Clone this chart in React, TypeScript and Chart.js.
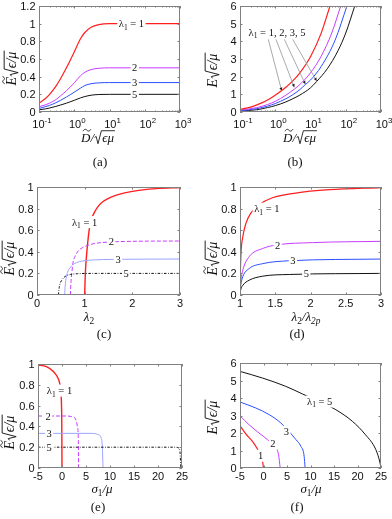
import React, { useEffect, useRef } from 'react';
import { Chart, registerables } from 'chart.js';
Chart.register(...registerables);

// ---------------- data ----------------
// (a) E~ vs D~ (log x)
const aD = [0.1, 0.15, 0.2, 0.3, 0.4, 0.6, 0.8, 1, 1.5, 2, 3, 5, 10, 1000];
const aE1 = [0.1, 0.15, 0.2, 0.29, 0.37, 0.5, 0.6, 0.68, 0.83, 0.9, 0.96, 0.99, 1.0, 1.0];
const aE2 = [0.06, 0.08, 0.1, 0.14, 0.18, 0.24, 0.29, 0.33, 0.41, 0.45, 0.48, 0.495, 0.5, 0.5];
const aE3 = [0.04, 0.06, 0.075, 0.105, 0.13, 0.17, 0.2, 0.225, 0.27, 0.3, 0.32, 0.33, 0.333, 0.333];
const aE5 = [0.025, 0.035, 0.045, 0.063, 0.078, 0.1, 0.118, 0.132, 0.16, 0.175, 0.19, 0.198, 0.2, 0.2];
const aXTicks = [0.1, 1, 10, 100, 1000];
const aXExp = ['-1', '0', '1', '2', '3'];
const aYTicks = [0, 0.2, 0.4, 0.6, 0.8, 1, 1.2];

// (b) E vs D~ (log x)
const bX1 = [0.1, 0.2, 0.4, 0.7, 1, 1.5, 2, 3, 5, 10, 20, 35.7];
const bY1 = [0.15, 0.28, 0.5, 0.75, 0.95, 1.2, 1.4, 1.72, 2.22, 3.13, 4.45, 6.0];
const bX2 = [0.1, 0.3, 0.6, 1, 2, 3.5, 5, 10, 20, 40, 72];
const bY2 = [0.1, 0.25, 0.42, 0.6, 0.95, 1.3, 1.56, 2.22, 3.15, 4.47, 6.0];
const bX3 = [0.1, 0.3, 0.6, 1, 2, 3, 5, 7.1, 10, 20, 50, 108];
const bY3 = [0.07, 0.19, 0.33, 0.48, 0.75, 0.95, 1.27, 1.55, 1.81, 2.57, 4.07, 6.0];
const bX5 = [0.1, 0.3, 0.6, 1, 2, 3, 5, 10, 15, 30, 60, 100, 180];
const bY5 = [0.05, 0.13, 0.25, 0.36, 0.57, 0.73, 0.96, 1.37, 1.73, 2.45, 3.46, 4.47, 6.0];
const bYTicks = [0, 1, 2, 3, 4, 5, 6];
const bArrowFrom = [[0.635, 4.11], [1.05, 4.11], [1.81, 4.11], [3.13, 4.11]];
const bArrowTo = [[1.52, 1.2], [3.47, 1.4], [7.13, 1.58], [14.96, 1.75]];

// (c) E~ vs lambda2
const cX1 = [1, 1.01, 1.02, 1.05, 1.1, 1.15, 1.21, 1.3, 1.4, 1.52, 1.7, 2, 2.5, 3];
const cY1 = [0, 0.15, 0.25, 0.42, 0.62, 0.71, 0.77, 0.83, 0.87, 0.9, 0.93, 0.96, 0.985, 0.995];
const cX2 = [0.7, 0.71, 0.73, 0.755, 0.8, 0.87, 0.96, 1.1, 1.25, 1.5, 2, 3];
const cY2 = [0, 0.1, 0.2, 0.3, 0.36, 0.41, 0.44, 0.465, 0.48, 0.49, 0.497, 0.5];
const cX3 = [0.58, 0.59, 0.61, 0.64, 0.69, 0.75, 0.83, 0.95, 1.2, 1.6, 3];
const cY3 = [0, 0.08, 0.15, 0.21, 0.25, 0.28, 0.3, 0.315, 0.325, 0.33, 0.333];
const cX5 = [0.45, 0.46, 0.48, 0.51, 0.56, 0.62, 0.7, 0.85, 1.2, 3];
const cY5 = [0, 0.05, 0.1, 0.13, 0.16, 0.18, 0.19, 0.197, 0.2, 0.2];
const cXTicks = [0, 1, 2, 3];
const unitYTicks = [0, 0.2, 0.4, 0.6, 0.8, 1];

// (d) E~ vs lambda2/lambda2p
const dX1 = [1, 1.005, 1.014, 1.04, 1.085, 1.156, 1.27, 1.46, 1.79, 2.27, 3];
const dY1 = [0.02, 0.2, 0.385, 0.54, 0.665, 0.76, 0.835, 0.9, 0.944, 0.975, 0.995];
const dX2 = [1, 1.01, 1.04, 1.13, 1.32, 1.51, 2.03, 3];
const dY2 = [0.04, 0.12, 0.23, 0.355, 0.43, 0.463, 0.485, 0.497];
const dX3 = [1, 1.01, 1.04, 1.13, 1.32, 1.7, 3];
const dY3 = [0.03, 0.09, 0.17, 0.245, 0.29, 0.317, 0.333];
const dX5 = [1, 1.01, 1.04, 1.13, 1.32, 1.7, 3];
const dY5 = [0.01, 0.05, 0.09, 0.137, 0.174, 0.19, 0.2];
const dXTicks = [1, 1.5, 2, 2.5, 3];

// (e) E~ vs sigma1/mu
const eX1 = [-5, -3.25, -1.85, -0.7, -0.35, -0.14, -0.05, 0];
const eY1 = [0.99, 0.975, 0.93, 0.85, 0.78, 0.655, 0.45, 0];
const eX2 = [-5, 1, 2, 2.7, 3.2, 3.4, 3.46];
const eY2 = [0.5, 0.5, 0.495, 0.48, 0.4, 0.27, 0];
const eX3 = [-5, 6, 7.6, 8.15, 8.4, 8.55];
const eY3 = [0.333, 0.333, 0.32, 0.29, 0.21, 0];
const eX5 = [-5, 23.5, 24.4, 24.6, 24.75];
const eY5 = [0.2, 0.2, 0.19, 0.145, 0];
const sXTicks = [-5, 0, 5, 10, 15, 20, 25];

// (f) E vs sigma1/mu
const fX1 = [-5, -3.8, -2.35, -1.3, -0.57, -0.2, 0];
const fY1 = [2.42, 1.96, 1.52, 1.09, 0.67, 0.38, 0];
const fX2 = [-5, -3.1, -0.96, 0.85, 2.3, 3.2, 3.55];
const fY2 = [2.98, 2.48, 2.0, 1.62, 1.24, 0.76, 0];
const fX3 = [-5, -1.65, 1.2, 3.7, 6.9, 7.95, 8.65, 8.85];
const fY3 = [3.77, 3.43, 3.05, 2.57, 1.62, 1.24, 0.67, 0];
const fX5 = [-5, -0.2, 4.7, 8.3, 11.8, 15.4, 18.9, 21.7, 23.9, 24.8, 25];
const fY5 = [5.52, 5.14, 4.67, 4.23, 3.81, 3.33, 2.67, 1.9, 1.05, 0.29, 0];

// ---------------- styles ----------------
const RED = '#ff1f1f';
const MAG = '#c83cff';
const BLUE = '#2a4fff';
const LBLUE = '#9aa4ff';
const BLACK = '#111111';
const FRAME = '#808080';
const SANS = '"Liberation Sans", Arial, sans-serif';
const SERIF = '"Liberation Serif", "DejaVu Serif", serif';

type Seg = { t: string; it?: boolean; sub?: boolean; sup?: boolean; sqrt?: boolean; tilde?: boolean };

function segFont(s: Seg, size: number, fam: string) {
  const sz = s.sub || s.sup ? size * 0.72 : size;
  return `${s.it ? 'italic ' : ''}${sz}px ${fam}`;
}
function segWidth(ctx: CanvasRenderingContext2D, s: Seg, size: number, fam: string) {
  ctx.font = segFont(s, size, fam);
  let w = ctx.measureText(s.t).width;
  if (s.sqrt) w += size * 0.62 + 1;
  return w;
}
function segsWidth(ctx: CanvasRenderingContext2D, segs: Seg[], size: number, fam: string) {
  return segs.reduce((a, s) => a + segWidth(ctx, s, size, fam), 0);
}
function drawSegs(ctx: CanvasRenderingContext2D, segs: Seg[], x: number, y: number, size: number, fam: string, align: 'center' | 'left' | 'right' = 'center', color = '#000') {
  const ws = segs.map((s) => segWidth(ctx, s, size, fam));
  const total = ws.reduce((a, b) => a + b, 0);
  let cx = align === 'center' ? x - total / 2 : align === 'right' ? x - total : x;
  ctx.fillStyle = color;
  ctx.strokeStyle = color;
  ctx.textAlign = 'left';
  ctx.textBaseline = 'alphabetic';
  segs.forEach((s, i) => {
    ctx.font = segFont(s, size, fam);
    const by = y + (s.sub ? size * 0.22 : s.sup ? -size * 0.42 : 0);
    let tx = cx;
    if (s.sqrt) {
      const rw = size * 0.62;
      const tw = ws[i] - rw - 1;
      ctx.beginPath();
      ctx.lineWidth = Math.max(0.8, size / 15);
      ctx.moveTo(cx + 0.04 * size, y - 0.34 * size);
      ctx.lineTo(cx + 0.16 * size, y - 0.42 * size);
      ctx.lineTo(cx + 0.3 * size, y + 0.14 * size);
      ctx.lineTo(cx + 0.56 * size, y - 0.86 * size);
      ctx.lineTo(cx + rw + tw + 1, y - 0.86 * size);
      ctx.stroke();
      tx = cx + rw;
    }
    ctx.fillText(s.t, tx, by);
    if (s.tilde) {
      const tw = ctx.measureText(s.t).width;
      const ty = by - size * 0.9;
      const x0 = tx + tw * 0.2;
      const x1 = tx + tw * 1.05;
      const w = x1 - x0;
      ctx.beginPath();
      ctx.lineWidth = Math.max(0.8, size / 15);
      ctx.moveTo(x0, ty + 1);
      ctx.bezierCurveTo(x0 + w * 0.2, ty - 1.5, x0 + w * 0.35, ty - 1.2, x0 + w * 0.5, ty);
      ctx.bezierCurveTo(x0 + w * 0.65, ty + 1.2, x0 + w * 0.8, ty + 1.5, x1, ty - 1);
      ctx.stroke();
    }
    cx += ws[i];
  });
  return total;
}

interface Series { x: number[]; y: number[]; color: string; width: number; dash?: number[] }
interface Label { x: number; y: number; segs: Seg[]; bg: boolean }
interface PanelCfg {
  cell: [number, number, number, number];
  plot: [number, number, number, number]; // L T R B page coords
  xType: 'linear' | 'logarithmic';
  xMin: number; xMax: number; xTicks: number[]; xLabels: Seg[][];
  yMin: number; yMax: number; yTicks: number[]; yLabels: string[];
  series: Series[];
  labels: Label[];
  xTitle: Seg[]; xTitlePos: [number, number];
  yTitle: Seg[]; yTitlePos: [number, number];
  caption: string; captionPos: [number, number];
  arrows?: { from: number[][]; to: number[][] };
}

const fmt = (v: number) => String(Math.round(v * 10) / 10);
const lin = (arr: number[]) => arr.map((v) => [{ t: fmt(v) }] as Seg[]);
const logLabels = aXExp.map((e) => [{ t: '10' }, { t: e, sup: true }] as Seg[]);
const lam1 = (rest: string): Seg[] => [{ t: 'λ' }, { t: '1', sub: true }, { t: rest }];
const num = (n: string): Seg[] => [{ t: n }];

const yTitleTilde: Seg[] = [{ t: 'E', it: true, tilde: true }, { t: 'ϵ/μ', it: true, sqrt: true }];
const yTitlePlain: Seg[] = [{ t: 'E', it: true }, { t: 'ϵ/μ', it: true, sqrt: true }];
const xTitleD: Seg[] = [{ t: 'D', it: true, tilde: true }, { t: '/', it: true }, { t: 'ϵμ', it: true, sqrt: true }];
const xTitleSigma: Seg[] = [{ t: 'σ', it: true }, { t: '1', sub: true }, { t: '/μ', it: true }];

const S = (x: number[], y: number[], color: string, width = 1, dash?: number[]): Series => ({ x, y, color, width, dash });
const DASHDOT = [2.5, 1.5, 0.8, 1.5];

const panels: PanelCfg[] = [
  {
    cell: [0, 0, 196, 173], plot: [39, 6, 180, 112], xType: 'logarithmic',
    xMin: 0.1, xMax: 1000, xTicks: aXTicks, xLabels: logLabels,
    yMin: 0, yMax: 1.2, yTicks: aYTicks, yLabels: aYTicks.map(fmt),
    series: [S(aD, aE1, RED, 1.2), S(aD, aE2, MAG), S(aD, aE3, BLUE), S(aD, aE5, BLACK)],
    labels: [
      { x: 42, y: 1.0, segs: lam1(' = 1'), bg: true },
      { x: 52, y: 0.5, segs: num('2'), bg: true },
      { x: 52, y: 0.333, segs: num('3'), bg: true },
      { x: 52, y: 0.2, segs: num('5'), bg: true },
    ],
    xTitle: xTitleD, xTitlePos: [98, 138], yTitle: yTitleTilde, yTitlePos: [12, 68],
    caption: '(a)', captionPos: [100, 162],
  },
  {
    cell: [196, 0, 196, 173], plot: [240, 6, 381, 112], xType: 'logarithmic',
    xMin: 0.1, xMax: 1000, xTicks: aXTicks, xLabels: logLabels,
    yMin: 0, yMax: 6, yTicks: bYTicks, yLabels: bYTicks.map(fmt),
    series: [S(bX1, bY1, RED, 1.2), S(bX2, bY2, MAG), S(bX3, bY3, BLUE), S(bX5, bY5, BLACK)],
    labels: [{ x: 1.12, y: 4.53, segs: lam1(' = 1, 2, 3, 5'), bg: false }],
    xTitle: xTitleD, xTitlePos: [300, 138], yTitle: yTitlePlain, yTitlePos: [213, 70],
    caption: '(b)', captionPos: [295, 162],
    arrows: { from: bArrowFrom, to: bArrowTo },
  },
  {
    cell: [0, 173, 196, 173], plot: [37, 187, 180, 295], xType: 'linear',
    xMin: 0, xMax: 3, xTicks: cXTicks, xLabels: lin(cXTicks),
    yMin: 0, yMax: 1, yTicks: unitYTicks, yLabels: unitYTicks.map(fmt),
    series: [S(cX5, cY5, BLACK, 1, DASHDOT), S(cX3, cY3, LBLUE), S(cX2, cY2, MAG, 1, [4, 2]), S(cX1, cY1, RED, 1.4)],
    labels: [
      { x: 1.0, y: 0.675, segs: lam1(' = 1'), bg: true },
      { x: 1.56, y: 0.5, segs: num('2'), bg: true },
      { x: 1.7, y: 0.333, segs: num('3'), bg: true },
      { x: 1.87, y: 0.2, segs: num('5'), bg: true },
    ],
    xTitle: [{ t: 'λ', it: true }, { t: '2', sub: true }], xTitlePos: [89, 317],
    yTitle: yTitleTilde, yTitlePos: [10, 258],
    caption: '(c)', captionPos: [104, 334],
  },
  {
    cell: [196, 173, 196, 173], plot: [240, 187, 381, 295], xType: 'linear',
    xMin: 1, xMax: 3, xTicks: dXTicks, xLabels: lin(dXTicks),
    yMin: 0, yMax: 1, yTicks: unitYTicks, yLabels: unitYTicks.map(fmt),
    series: [S(dX1, dY1, RED, 1.2), S(dX2, dY2, MAG), S(dX3, dY3, BLUE), S(dX5, dY5, BLACK)],
    labels: [
      { x: 1.38, y: 0.8, segs: lam1(' = 1'), bg: true },
      { x: 1.535, y: 0.46, segs: num('2'), bg: true },
      { x: 1.75, y: 0.323, segs: num('3'), bg: true },
      { x: 1.94, y: 0.197, segs: num('5'), bg: true },
    ],
    xTitle: [{ t: 'λ', it: true }, { t: '2', sub: true }, { t: '/λ', it: true }, { t: '2p', sub: true, it: true }], xTitlePos: [306, 317],
    yTitle: yTitleTilde, yTitlePos: [213, 258],
    caption: '(d)', captionPos: [297, 334],
  },
  {
    cell: [0, 346, 196, 173], plot: [38, 364, 182, 468], xType: 'linear',
    xMin: -5, xMax: 25, xTicks: sXTicks, xLabels: lin(sXTicks),
    yMin: 0, yMax: 1, yTicks: unitYTicks, yLabels: unitYTicks.map(fmt),
    series: [S(eX5, eY5, BLACK, 1, DASHDOT), S(eX3, eY3, LBLUE), S(eX2, eY2, MAG, 1, [4, 2]), S(eX1, eY1, RED, 1.4)],
    labels: [
      { x: -0.52, y: 0.744, segs: lam1(' = 1'), bg: true },
      { x: -2.9, y: 0.5, segs: num('2'), bg: true },
      { x: -2.7, y: 0.333, segs: num('3'), bg: true },
      { x: -2.7, y: 0.2, segs: num('5'), bg: true },
    ],
    xTitle: xTitleSigma, xTitlePos: [102, 489], yTitle: yTitleTilde, yTitlePos: [10, 432],
    caption: '(e)', captionPos: [98, 507],
  },
  {
    cell: [196, 346, 196, 173], plot: [240, 363, 381, 468], xType: 'linear',
    xMin: -5, xMax: 25, xTicks: sXTicks, xLabels: lin(sXTicks),
    yMin: 0, yMax: 6, yTicks: bYTicks, yLabels: bYTicks.map(fmt),
    series: [S(fX1, fY1, RED, 1.2), S(fX2, fY2, MAG), S(fX3, fY3, BLUE), S(fX5, fY5, BLACK)],
    labels: [
      { x: -0.6, y: 0.7, segs: num('1'), bg: true },
      { x: 2.0, y: 1.39, segs: num('2'), bg: true },
      { x: 4.87, y: 2.07, segs: num('3'), bg: true },
      { x: 11.96, y: 3.8, segs: lam1(' = 5'), bg: true },
    ],
    xTitle: xTitleSigma, xTitlePos: [311, 489], yTitle: yTitlePlain, yTitlePos: [213, 417],
    caption: '(f)', captionPos: [297, 507],
  },
];

function decoPlugin(cfg: PanelCfg) {
  return {
    id: 'deco',
    afterDraw(chart: any) {
      const ctx: CanvasRenderingContext2D = chart.ctx;
      const xs = chart.scales.x;
      const ys = chart.scales.y;
      const { left, top, right, bottom } = chart.chartArea;
      const ox = cfg.cell[0];
      const oy = cfg.cell[1];
      ctx.save();
      // curve labels
      cfg.labels.forEach((lb) => {
        const px = xs.getPixelForValue(lb.x);
        const py = ys.getPixelForValue(lb.y);
        const size = 10.5;
        const w = segsWidth(ctx, lb.segs, size, SERIF);
        if (lb.bg) {
          ctx.fillStyle = '#fff';
          ctx.fillRect(px - w / 2 - 1.5, py - 6, w + 3, 12);
        }
        drawSegs(ctx, lb.segs, px, py + 3.6, size, SERIF, 'center', '#111');
      });
      // arrows
      if (cfg.arrows) {
        cfg.arrows.from.forEach((f, i) => {
          const t = cfg.arrows!.to[i];
          const x0 = xs.getPixelForValue(f[0]);
          const y0 = ys.getPixelForValue(f[1]);
          const x1 = xs.getPixelForValue(t[0]);
          const y1 = ys.getPixelForValue(t[1]);
          ctx.strokeStyle = '#a0a0a0';
          ctx.lineWidth = 0.9;
          ctx.beginPath();
          ctx.moveTo(x0, y0);
          ctx.lineTo(x1, y1);
          ctx.stroke();
          const ang = Math.atan2(y1 - y0, x1 - x0);
          ctx.fillStyle = '#222';
          ctx.beginPath();
          ctx.moveTo(x1, y1);
          ctx.lineTo(x1 - 3.5 * Math.cos(ang - 0.45), y1 - 3.5 * Math.sin(ang - 0.45));
          ctx.lineTo(x1 - 3.5 * Math.cos(ang + 0.45), y1 - 3.5 * Math.sin(ang + 0.45));
          ctx.closePath();
          ctx.fill();
        });
      }
      // frame
      ctx.strokeStyle = FRAME;
      ctx.lineWidth = 1;
      ctx.strokeRect(left + 0.5, top + 0.5, right - left - 1, bottom - top - 1);
      // ticks
      const tk = 2.5;
      ctx.beginPath();
      cfg.xTicks.forEach((v) => {
        const p = Math.round(xs.getPixelForValue(v)) + 0.5;
        ctx.moveTo(p, bottom); ctx.lineTo(p, bottom - tk);
        ctx.moveTo(p, top); ctx.lineTo(p, top + tk);
      });
      cfg.yTicks.forEach((v) => {
        const p = Math.round(ys.getPixelForValue(v)) + 0.5;
        ctx.moveTo(left, p); ctx.lineTo(left + tk, p);
        ctx.moveTo(right, p); ctx.lineTo(right - tk, p);
      });
      if (cfg.xType === 'logarithmic') {
        for (let d = 0.1; d < 1000; d *= 10) {
          for (let m = 2; m <= 9; m++) {
            const p = Math.round(xs.getPixelForValue(d * m)) + 0.5;
            ctx.moveTo(p, bottom); ctx.lineTo(p, bottom - 1.5);
            ctx.moveTo(p, top); ctx.lineTo(p, top + 1.5);
          }
        }
      }
      ctx.stroke();
      // tick labels
      const tsz = 11;
      cfg.yTicks.forEach((v, i) => {
        const p = ys.getPixelForValue(v);
        drawSegs(ctx, [{ t: cfg.yLabels[i] }], left - 3.5, p + 4, tsz, SANS, 'right', '#111');
      });
      cfg.xTicks.forEach((v, i) => {
        const p = xs.getPixelForValue(v);
        if (cfg.xType === 'logarithmic') {
          drawSegs(ctx, cfg.xLabels[i], p + 3, bottom + 15.5, tsz, SANS, 'center', '#111');
        } else {
          drawSegs(ctx, cfg.xLabels[i], p, bottom + 11.5, tsz, SANS, 'center', '#111');
        }
      });
      // axis titles
      const xt = 13;
      drawSegs(ctx, cfg.xTitle, cfg.xTitlePos[0] - ox, cfg.xTitlePos[1] - oy + xt * 0.3, xt, SERIF, 'center', '#111');
      const yt = 14;
      ctx.save();
      ctx.translate(cfg.yTitlePos[0] - ox, cfg.yTitlePos[1] - oy);
      ctx.rotate(-Math.PI / 2);
      drawSegs(ctx, cfg.yTitle, 0, yt * 0.3, yt, SERIF, 'center', '#111');
      ctx.restore();
      // caption
      drawSegs(ctx, [{ t: cfg.caption }], cfg.captionPos[0] - ox, cfg.captionPos[1] - oy + 4, 13, SERIF, 'center', '#111');
      ctx.restore();
    },
  };
}

function Panel({ cfg }: { cfg: PanelCfg }) {
  const ref = useRef<HTMLCanvasElement>(null);
  useEffect(() => {
    const [cx, cy, cw, ch] = cfg.cell;
    const [L, T, R, B] = cfg.plot;
    const chart = new Chart(ref.current!, {
      type: 'line',
      data: {
        datasets: cfg.series.map((s) => ({
          data: s.x.map((x, i) => ({ x, y: s.y[i] })),
          borderColor: s.color,
          borderWidth: s.width,
          borderDash: s.dash || [],
          pointRadius: 0,
          fill: false,
          cubicInterpolationMode: 'monotone' as const,
        })),
      },
      options: {
        animation: false,
        responsive: false,
        events: [],
        layout: { padding: { left: L - cx, top: T - cy, right: cx + cw - R, bottom: cy + ch - B } },
        scales: {
          x: { type: cfg.xType, min: cfg.xMin, max: cfg.xMax, display: false },
          y: { type: 'linear', min: cfg.yMin, max: cfg.yMax, display: false },
        },
        plugins: { legend: { display: false }, tooltip: { enabled: false }, title: { display: false } },
      },
      plugins: [decoPlugin(cfg)],
    } as any);
    return () => chart.destroy();
  }, [cfg]);
  const [cx, cy, cw, ch] = cfg.cell;
  return (
    <canvas
      ref={ref}
      width={cw}
      height={ch}
      style={{ position: 'absolute', left: cx, top: cy, width: cw, height: ch }}
    />
  );
}

export default function App() {
  return (
    <div style={{ position: 'absolute', left: 0, top: 0, width: 392, height: 519, background: '#fff' }}>
      {panels.map((p, i) => (
        <Panel key={i} cfg={p} />
      ))}
    </div>
  );
}
